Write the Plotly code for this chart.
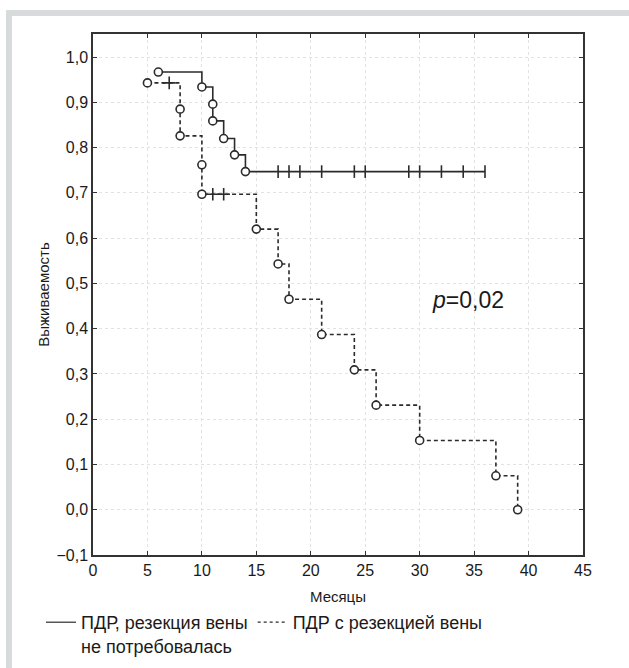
import plotly.graph_objects as go

# ---- data ----
solid_times = [6, 10, 11, 11, 12, 13, 14]
solid_surv = [0.967, 0.934, 0.896, 0.859, 0.820, 0.784, 0.747]
solid_censored = [17, 18, 19, 21, 24, 25, 29, 30, 32, 34, 36]

dashed_times = [5, 8, 8, 10, 10, 15, 17, 18, 21, 24, 26, 30, 37, 39]
dashed_surv = [0.943, 0.885, 0.826, 0.762, 0.697, 0.620, 0.543, 0.465,
               0.387, 0.309, 0.231, 0.153, 0.075, 0.0]
dashed_censored = [7, 11, 12]

x_ticks = [0, 5, 10, 15, 20, 25, 30, 35, 40, 45]
y_ticks = [-0.1, 0.0, 0.1, 0.2, 0.3, 0.4, 0.5, 0.6, 0.7, 0.8, 0.9, 1.0]
y_labels = [f"{v:.1f}".replace(".", ",").replace("-", "\u2212") for v in y_ticks]

name_solid = "ПДР, резекция вены<br>не потребовалась"
name_dashed = "ПДР с резекцией вены"

INK = "#2b2b2b"


def step_path(times, surv, end_time=None):
    xs, ys = [times[0]], [surv[0]]
    for t, s in zip(times[1:], surv[1:]):
        xs += [t, t]
        ys += [ys[-1], s]
    if end_time is not None and end_time > xs[-1]:
        xs.append(end_time)
        ys.append(ys[-1])
    return xs, ys


def surv_at(times, surv, t):
    val = surv[0]
    for ti, si in zip(times, surv):
        if ti <= t:
            val = si
    return val


fig = go.Figure()

# solid curve
sx, sy = step_path(solid_times, solid_surv, max(solid_censored))
fig.add_trace(go.Scatter(x=sx, y=sy, mode="lines", showlegend=False,
                         line=dict(color=INK, width=1.6, shape="linear")))
fig.add_trace(go.Scatter(x=solid_censored,
                         y=[surv_at(solid_times, solid_surv, t) for t in solid_censored],
                         mode="markers", showlegend=False,
                         marker=dict(symbol="line-ns", size=9,
                                     line=dict(color=INK, width=1.6))))
fig.add_trace(go.Scatter(x=solid_times, y=solid_surv, mode="markers", showlegend=False,
                         marker=dict(symbol="circle", size=8, color="white",
                                     line=dict(color=INK, width=1.6))))

# dashed curve
dx, dy = step_path(dashed_times, dashed_surv)
fig.add_trace(go.Scatter(x=dx, y=dy, mode="lines", showlegend=False,
                         line=dict(color=INK, width=1.6, dash="4px,3px")))
fig.add_trace(go.Scatter(x=dashed_censored,
                         y=[surv_at(dashed_times, dashed_surv, t) for t in dashed_censored],
                         mode="markers", showlegend=False,
                         marker=dict(symbol="cross-thin", size=9,
                                     line=dict(color=INK, width=1.6))))
fig.add_trace(go.Scatter(x=dashed_times, y=dashed_surv, mode="markers", showlegend=False,
                         marker=dict(symbol="circle", size=8, color="white",
                                     line=dict(color=INK, width=1.6))))

# legend-only entries
fig.add_trace(go.Scatter(x=[None], y=[None], mode="lines", name=name_solid,
                         line=dict(color=INK, width=1.2)))
fig.add_trace(go.Scatter(x=[None], y=[None], mode="lines", name=name_dashed,
                         line=dict(color=INK, width=1.2, dash="3px,3px")))

# plot area: l=93, r=46, t=34, b=113 -> width 490, height 521
W, H = 629, 668
L, R, T, B = 93, 46, 34, 113
PW, PH = W - L - R, H - T - B


def px(xp):
    return (xp - L) / PW


def py(yp):
    return (H - B - yp) / PH


GRAY = "#d8dbdc"
shapes = [
    dict(type="rect", xref="paper", yref="paper", x0=px(6), x1=px(12), y0=py(H + 5), y1=py(10),
         fillcolor=GRAY, line=dict(width=0), layer="below"),
    dict(type="rect", xref="paper", yref="paper", x0=px(6), x1=px(W + 5), y0=py(16), y1=py(10),
         fillcolor=GRAY, line=dict(width=0), layer="below"),
]

fig.update_layout(
    width=W, height=H,
    margin=dict(l=L, r=R, t=T, b=B, autoexpand=False),
    paper_bgcolor="white", plot_bgcolor="white",
    font=dict(family="Liberation Sans, Arial, sans-serif", size=16, color="#1a1a1a"),
    shapes=shapes,
    showlegend=True,
    legend=dict(orientation="h", x=px(41), y=py(604), xanchor="left", yanchor="top",
                font=dict(size=18, color="#1a1a1a"), itemwidth=30,
                bgcolor="rgba(0,0,0,0)", tracegroupgap=0, valign="top"),
    annotations=[
        dict(x=34.4, y=0.463, xref="x", yref="y", showarrow=False,
             text="<i>p</i>=0,02", font=dict(size=23, color="#1a1a1a")),
    ],
)

fig.update_xaxes(range=[0, 45], tickvals=x_ticks, ticktext=[str(v) for v in x_ticks],
                 automargin=False,
                 showgrid=True, gridcolor="#e2e2e2", griddash="dot", gridwidth=1,
                 zeroline=False, showline=True, linecolor="#333", linewidth=1.5,
                 mirror="ticks", ticks="inside", ticklen=4, tickcolor="#333",
                 title=dict(text="Месяцы", font=dict(size=15), standoff=14))
fig.update_yaxes(range=[-0.1, 1.051], tickvals=y_ticks, ticktext=y_labels,
                 automargin=False,
                 showgrid=True, gridcolor="#e2e2e2", griddash="dot", gridwidth=1,
                 zeroline=False, showline=True, linecolor="#333", linewidth=1.5,
                 mirror="ticks", ticks="inside", ticklen=4, tickcolor="#333",
                 title=dict(text="Выживаемость", font=dict(size=15), standoff=3))

fig.write_html("out.html", config={"displayModeBar": False},
               post_script="document.body.style.margin='0px';document.body.style.overflow='hidden';")
